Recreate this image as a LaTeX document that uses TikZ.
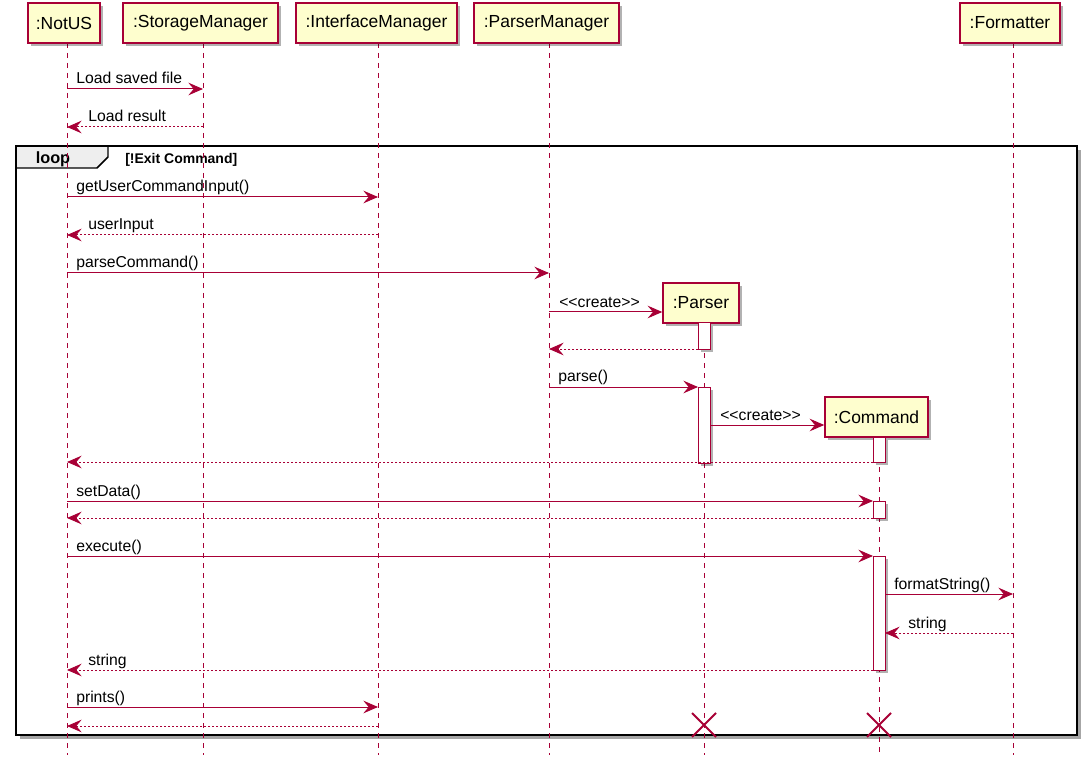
\documentclass[tikz,border=0pt]{standalone}
\usepackage{fontspec}
\setmainfont{Liberation Sans}
\usetikzlibrary{arrows.meta,shadows}
\definecolor{pu}{HTML}{A80036}
\definecolor{pbox}{HTML}{FEFECE}
\definecolor{tabg}{HTML}{EEEEEE}
\tikzset{
 party/.style={draw=pu, fill=pbox, line width=1.1pt, inner sep=0pt, minimum height=30pt,
   font=\fontsize{13.1}{15}\selectfont,
   drop shadow={shadow xshift=2.5pt, shadow yshift=-2.5pt, opacity=0.3, fill=black}},
 lifeline/.style={draw=pu, line width=0.75pt, dash pattern=on 3.75pt off 3.75pt},
 actbar/.style={draw=pu, fill=white, line width=0.75pt,
   drop shadow={shadow xshift=2pt, shadow yshift=-2pt, opacity=0.3, fill=black}},
 call/.style={draw=pu, line width=0.75pt, -{Stealth[length=11pt,width=9.5pt,inset=4pt]}},
 ret/.style={call, dash pattern=on 1.5pt off 1.5pt},
 lbl/.style={anchor=base west, inner sep=0pt, font=\fontsize{11.8}{13}\selectfont},
 destroy/.style={draw=pu, line width=1.4pt},
 frameline/.style={draw=black, line width=1.8pt},
}
\newcommand\mcall[5]{\draw[call] (#1,#3) -- (#2,#3);
  \node[lbl] (#5) at ({#1+9},{#3-5}) {#4};}
\newcommand\mret[5]{\draw[ret] (#1,#3) -- (#2,#3);
  \node[lbl] (#5) at ({#2+21},{#3-5}) {#4};}
\begin{document}
\begin{tikzpicture}[x=0.75pt,y=-0.75pt]
\useasboundingbox (0,0) rectangle (1090,770);
% loop frame
\path[fill=white, drop shadow={shadow xshift=3pt, shadow yshift=-3pt, opacity=0.35, fill=black}] (16,146) rectangle (1077,735);
\draw[line width=1.1pt, fill=tabg] (16,146) -- (108,146) -- (108,157) -- (97,168) -- (16,168) -- cycle;
\draw[frameline] (16,146) rectangle (1077,735);
\node[anchor=base, inner sep=0pt, font=\bfseries\fontsize{12.2}{14}\selectfont] (looplbl) at (53,164) {loop};
\node[anchor=base west, inner sep=0pt, font=\bfseries\fontsize{10.5}{12}\selectfont] (guard) at (125,164) {[!Exit Command]};
% lifeline coordinates
\coordinate (lNotUS) at (67,0);
\coordinate (lStor) at (203,0);
\coordinate (lIntf) at (378,0);
\coordinate (lPM) at (549,0);
\coordinate (lParser) at (704,0);
\coordinate (lCmd) at (879,0);
\coordinate (lFmt) at (1013,0);
\coordinate (bot) at (0,755);
\coordinate (top) at (0,43);
\coordinate (topP) at (0,323);
\coordinate (topC) at (0,437);
% lifelines
\draw[lifeline] (lNotUS |- top) -- (lNotUS |- bot);
\draw[lifeline] (lStor |- top) -- (lStor |- bot);
\draw[lifeline] (lIntf |- top) -- (lIntf |- bot);
\draw[lifeline] (lPM |- top) -- (lPM |- bot);
\draw[lifeline] (lParser |- topP) -- (lParser |- bot);
\draw[lifeline] (lCmd |- topC) -- (lCmd |- bot);
\draw[lifeline] (lFmt |- top) -- (lFmt |- bot);
% participants
\node[party, minimum width=54pt] (notus) at (64,23) {:NotUS};
\node[party, minimum width=116.25pt] (stor) at (200.5,23) {:StorageManager};
\node[party, minimum width=120.75pt] (intf) at (376.5,23) {:InterfaceManager};
\node[party, minimum width=108.75pt] (pm) at (546.5,23) {:ParserManager};
\node[party, minimum width=75pt] (fmt) at (1010,23) {:Formatter};
\node[party, minimum width=57pt] (parser) at (701,303) {:Parser};
\node[party, minimum width=77.25pt] (cmd) at (876.5,417) {:Command};
% activation bars
\draw[actbar] (698,323) rectangle (710,349);
\draw[actbar] (698,387) rectangle (710,463);
\draw[actbar] (873,437) rectangle (885,462);
\draw[actbar] (873,501) rectangle (885,518);
\draw[actbar] (873,556) rectangle (885,670);
% messages
\mcall{67}{203}{89}{Load saved file}{m1}
\mret{203}{67}{127}{Load result}{m2}
\mcall{67}{378}{197}{getUserCommandInput()}{m3}
\mret{378}{67}{235}{userInput}{m4}
\mcall{67}{549}{273}{parseCommand()}{m5}
\draw[call] (549,312) -- (parser.west |- 0,312);
\node[lbl] (m6) at (559,307) {<\kern0pt<create>\kern0pt>};
\draw[ret] (698,349) -- (549,349);
\mcall{549}{698}{387}{parse()}{m8}
\draw[call] (710,425) -- (cmd.west |- 0,425);
\node[lbl] (m9) at (720,420) {<\kern0pt<create>\kern0pt>};
\draw[ret] (873,462) -- (67,462);
\mcall{67}{873}{501}{setData()}{m11}
\draw[ret] (873,518) -- (67,518);
\mcall{67}{873}{556}{execute()}{m13}
\mcall{885}{1013}{594}{formatString()}{m14}
\draw[ret] (1013,633) -- (885,633);
\node[lbl] (m15) at (908,628) {string};
\mret{873}{67}{670}{string}{m16}
\mcall{67}{378}{707}{prints()}{m17}
\draw[ret] (378,726) -- (67,726);
% destroy marks
\draw[destroy] (692,713) -- (716,737) (692,737) -- (716,713);
\draw[destroy] (867,713) -- (891,737) (867,737) -- (891,713);
\end{tikzpicture}
\end{document}
